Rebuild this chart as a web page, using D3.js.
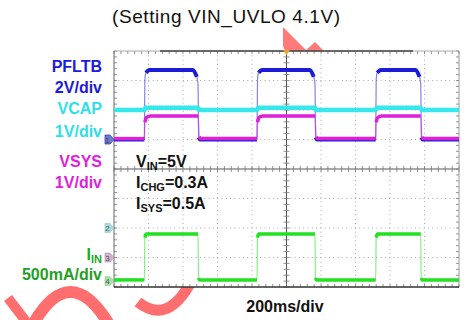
<!doctype html>
<html lang="en">
<head>
<meta charset="utf-8" />
<title>Scope capture - VIN_UVLO 4.1V</title>
<script src="https://cdn.jsdelivr.net/npm/d3@7"></script>
<style>
  html, body { margin: 0; padding: 0; background: #fff; }
  svg { display: block; font-family: "Liberation Sans", Arial, sans-serif; }
</style>
</head>
<body>
<div id="scope"></div>
<script>
// edge times in ms from the left of the screen (rise, fall, rise, ...)
var edgeTimes = [176, 487, 829, 1165, 1517, 1778];

// levels [low, high] of each trace
var pfltbLevels = [0, 4.72];    // V
var vcapLevels  = [4.0, 4.08];  // V
var vsysLevels  = [4.03, 4.8];  // V
var iinLevels   = [0.02, 0.8];  // A

// edge shapes: [ms from edge, fraction of step done]
var pfltbRise = [[0, 0], [3, 0.86], [9, 0.96], [30, 1]];
var pfltbFall = [[-30, 0], [-7, 0.1], [0, 0.2], [4, 0.97], [12, 1]];
var vcapRise  = [[0, 0], [6, 1]];
var vcapFall  = [[0, 0], [6, 1]];
var vsysRise  = [[0, 0], [3, 0.72], [12, 0.93], [35, 1]];
var vsysFall  = [[0, 0], [7, 0.92], [16, 1]];
var iinRise   = [[0, 0], [3, 0.92], [10, 1]];
var iinFall   = [[0, 0], [3, 0.96], [8, 1]];

// channel settings: units per div and ground position (div from centre)
var channels = [
  { name: "PFLTB", perDiv: 2,   zero: 1,    levels: pfltbLevels, rise: pfltbRise, fall: pfltbFall, color: "#1c1cd8", width: 4 },
  { name: "VCAP",  perDiv: 1,   zero: -2,   levels: vcapLevels,  rise: vcapRise,  fall: vcapFall,  color: "#36e8ec", width: 4.5 },
  { name: "VSYS",  perDiv: 1,   zero: -3,   levels: vsysLevels,  rise: vsysRise,  fall: vsysFall,  color: "#e020d8", width: 3.5 },
  { name: "IIN",   perDiv: 0.5, zero: -3.8, levels: iinLevels,   rise: iinRise,   fall: iinFall,   color: "#22e022", width: 3.5 }
];

var W = 470, H = 320;
var pLeft = 114, pRight = 459, pTop = 51, pBottom = 287;

var svg = d3.select("#scope").append("svg").attr("width", W).attr("height", H);

var xTime = d3.scaleLinear().domain([0, 2000]).range([pLeft, pRight]); // 200ms/div
var xDiv = d3.scaleLinear().domain([0, 10]).range([pLeft, pRight]);
var yDiv = d3.scaleLinear().domain([-4, 4]).range([pBottom, pTop]);

// watermark, mostly hidden behind the screen
var wm = svg.append("g").attr("fill", "none").attr("stroke", "#ff6e6e");
wm.append("path").attr("d", "M8,298 L28,324").attr("stroke-width", 10);
wm.append("path").attr("d", "M32,326 Q70,258 110,326").attr("stroke-width", 12);
wm.append("path").attr("d", "M138,302 Q168,326 192,280").attr("stroke-width", 11);
wm.append("path").attr("d", "M283,27 L307,51 L285,51 L283,46 Z").attr("fill", "#ff7a7a").attr("stroke", "none");
wm.append("path").attr("d", "M305,51 L315,42 L324,51 Z").attr("fill", "#ff7a7a").attr("stroke", "none");

// screen background
svg.append("rect").attr("x", pLeft).attr("y", pTop).attr("width", pRight - pLeft).attr("height", pBottom - pTop).attr("fill", "#fff");

// dotted grid
var grid = svg.append("g").attr("stroke", "#a8a8a8").attr("stroke-dasharray", "1,3.3");
d3.range(1, 10).filter(function(i){ return i != 5; }).forEach(function(i){
  grid.append("line").attr("x1", xDiv(i)).attr("x2", xDiv(i)).attr("y1", pTop).attr("y2", pBottom);
});
d3.range(-3, 4).filter(function(i){ return i != 0; }).forEach(function(i){
  grid.append("line").attr("x1", pLeft).attr("x2", pRight).attr("y1", yDiv(i)).attr("y2", yDiv(i));
});

// centre lines with minor ticks
var axes = svg.append("g").attr("stroke", "#555").attr("stroke-width", 1);
axes.append("line").attr("x1", pLeft).attr("x2", pRight).attr("y1", yDiv(0)).attr("y2", yDiv(0));
axes.append("line").attr("x1", xDiv(5)).attr("x2", xDiv(5)).attr("y1", pTop).attr("y2", pBottom);
var ticks = svg.append("g").attr("stroke", "#777").attr("stroke-width", 0.8);
d3.range(0, 10.01, 0.2).forEach(function(d){
  var x = xDiv(d);
  ticks.append("line").attr("x1", x).attr("x2", x).attr("y1", yDiv(0) - 3).attr("y2", yDiv(0) + 3);
  ticks.append("line").attr("x1", x).attr("x2", x).attr("y1", pTop).attr("y2", pTop + 3);
  ticks.append("line").attr("x1", x).attr("x2", x).attr("y1", pBottom - 3).attr("y2", pBottom);
});
d3.range(-4, 4.01, 0.2).forEach(function(d){
  var y = yDiv(d);
  ticks.append("line").attr("x1", xDiv(5) - 3).attr("x2", xDiv(5) + 3).attr("y1", y).attr("y2", y);
  ticks.append("line").attr("x1", pLeft).attr("x2", pLeft + 3).attr("y1", y).attr("y2", y);
  ticks.append("line").attr("x1", pRight - 3).attr("x2", pRight).attr("y1", y).attr("y2", y);
});

// border
svg.append("line").attr("x1", pLeft).attr("x2", pRight).attr("y1", pTop).attr("y2", pTop).attr("stroke", "#aaa");
svg.append("line").attr("x1", 160).attr("x2", 413).attr("y1", pTop).attr("y2", pTop).attr("stroke", "#444").attr("stroke-width", 1.3);
svg.append("line").attr("x1", pLeft).attr("x2", pLeft).attr("y1", pTop).attr("y2", pBottom).attr("stroke", "#666");
svg.append("line").attr("x1", pRight).attr("x2", pRight).attr("y1", pTop).attr("y2", pBottom).attr("stroke", "#999");
svg.append("line").attr("x1", pLeft).attr("x2", pRight).attr("y1", pBottom).attr("y2", pBottom).attr("stroke", "#333").attr("stroke-width", 1.6);

// traces
function tracePoints(ch) {
  var pts = [[0, ch.levels[0]]];
  edgeTimes.forEach(function(t, i){
    var from = ch.levels[i % 2], to = ch.levels[(i + 1) % 2];
    var shape = (i % 2 == 0) ? ch.rise : ch.fall;
    shape.forEach(function(s){ pts.push([t + s[0], from + (to - from) * s[1]]); });
  });
  pts.push([2000, ch.levels[edgeTimes.length % 2]]);
  return pts;
}

channels.forEach(function(ch){
  var y = function(v){ return yDiv(v / ch.perDiv + ch.zero); };
  var pts = tracePoints(ch).map(function(p){ return [xTime(p[0]), y(p[1])]; });
  var line = d3.line().curve(d3.curveMonotoneX);
  // thin edges
  svg.append("path").attr("d", line(pts)).attr("fill", "none")
    .attr("stroke", ch.color).attr("stroke-opacity", 0.55).attr("stroke-width", 1.2);
  // thick noisy band on the flat parts
  var pieces = [], cur = [pts[0]];
  for (var i = 1; i < pts.length; i++) {
    var dx = pts[i][0] - pts[i-1][0], dy = Math.abs(pts[i][1] - pts[i-1][1]);
    if (dy > 3 * dx + 2) { pieces.push(cur); cur = [pts[i]]; }
    else cur.push(pts[i]);
  }
  pieces.push(cur);
  pieces.forEach(function(p){
    if (p.length < 2) return;
    svg.append("path").attr("d", line(p)).attr("fill", "none")
      .attr("stroke", ch.color).attr("stroke-width", ch.width).attr("stroke-linejoin", "round");
  });
});

// channel ground markers on the left edge
var markers = [
  { n: "1", zero: 1,    fill: "#6f7dc6", stroke: "#2626d0", op: 1 },
  { n: "2", zero: -2,   fill: "#9ed4d6", stroke: "#7cc", op: 0.85 },
  { n: "3", zero: -3,   fill: "#c7a4c4", stroke: "#b8b", op: 0.85 },
  { n: "4", zero: -3.8, fill: "#9fd69f", stroke: "#8c8", op: 0.85 }
];
markers.forEach(function(m){
  var yy = yDiv(m.zero);
  svg.append("path")
    .attr("d", "M" + (pLeft - 9) + "," + (yy - 4.5) + " h5 l4,4.5 l-4,4.5 h-5 Z")
    .attr("fill", m.fill).attr("stroke", m.stroke).attr("stroke-width", 0.7).attr("opacity", m.op);
  svg.append("text").attr("x", pLeft - 6.5).attr("y", yy + 3).attr("font-size", 8)
    .attr("fill", "#444").attr("opacity", m.op).attr("text-anchor", "middle").text(m.n);
});

// trigger position marker
svg.append("path").attr("d", "M" + (xDiv(5) - 3.5) + "," + (pTop - 1) + " h7 l-3.5,5 Z").attr("fill", "#f0a020");

// title
svg.append("text").attr("x", 226).attr("y", 22.5).attr("text-anchor", "middle")
  .attr("font-size", 19).attr("textLength", 228).attr("lengthAdjust", "spacing")
  .attr("fill", "#111").text("(Setting VIN_UVLO 4.1V)");

// left channel labels
var labels = [
  { t: "PFLTB",     y: 72,  c: "#1a1ae0" },
  { t: "2V/div",    y: 93,  c: "#1a1ae0" },
  { t: "VCAP",      y: 114, c: "#2ee0e8" },
  { t: "1V/div",    y: 137, c: "#2ee0e8" },
  { t: "VSYS",      y: 167, c: "#e01ee0" },
  { t: "1V/div",    y: 188, c: "#e01ee0" },
  { t: "500mA/div", y: 280, c: "#1fa01f" }
];
labels.forEach(function(l){
  svg.append("text").attr("x", 102).attr("y", l.y).attr("text-anchor", "end")
    .attr("font-size", 16).attr("font-weight", "bold").attr("fill", l.c).text(l.t);
});
var iin = svg.append("text").attr("x", 102).attr("y", 260).attr("text-anchor", "end")
  .attr("font-size", 16).attr("font-weight", "bold").attr("fill", "#1fa81f");
iin.append("tspan").text("I");
iin.append("tspan").attr("font-size", 11).attr("dy", 3).text("IN");

// test conditions
var conds = [
  { main: "V", sub: "IN",  rest: "=5V",   y: 167 },
  { main: "I", sub: "CHG", rest: "=0.3A", y: 188 },
  { main: "I", sub: "SYS", rest: "=0.5A", y: 209 }
];
conds.forEach(function(c){
  var t = svg.append("text").attr("x", 136).attr("y", c.y)
    .attr("font-size", 16).attr("font-weight", "bold").attr("fill", "#111");
  t.append("tspan").text(c.main);
  t.append("tspan").attr("font-size", 11).attr("dy", 3).text(c.sub);
  t.append("tspan").attr("dy", -3).text(c.rest);
});

// time base
svg.append("text").attr("x", 285).attr("y", 312).attr("text-anchor", "middle")
  .attr("font-size", 16).attr("font-weight", "bold").attr("fill", "#111").text("200ms/div");
</script>
</body>
</html>
